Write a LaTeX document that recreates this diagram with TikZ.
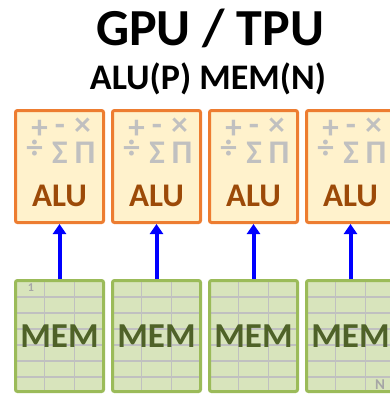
\documentclass[tikz,border=0pt]{standalone}
\usepackage{fontspec}
\setmainfont{Carlito}[BoldFont={Carlito Bold}]
\usetikzlibrary{arrows.meta}
\definecolor{AluFill}{HTML}{FFF2CC}
\definecolor{AluEdge}{HTML}{ED7D31}
\definecolor{AluInk}{HTML}{9C4A08}
\definecolor{MemFill}{HTML}{D8E4BC}
\definecolor{MemEdge}{HTML}{9BBB59}
\definecolor{MemInk}{HTML}{4F6228}
\definecolor{GridGray}{HTML}{C0C0C0}
\definecolor{TagGray}{HTML}{A6A6A6}
\begin{document}
\begin{tikzpicture}[x=1pt,y=-1pt]
				\tikzstyle{AluBox} = [rectangle, draw=AluEdge, fill=AluFill, line width=3pt, rounded corners=2pt, minimum width=88pt, minimum height=112pt, inner sep=0pt]
				\tikzstyle{MemBox} = [rectangle, draw=MemEdge, fill=MemFill, line width=3pt, rounded corners=2pt, minimum width=88pt, minimum height=111pt, inner sep=0pt, text=MemInk, font=\bfseries\fontsize{35}{35}\selectfont,
					path picture={
						\foreach \c in {-15,15} \draw[GridGray, line width=1.5pt] ([xshift=\c pt]path picture bounding box.north) -- ([xshift=\c pt]path picture bounding box.south);
						\foreach \r in {16.5,32.5,48.5,64.5,80.5,96.5} \draw[GridGray, line width=1.5pt] ([yshift=-\r pt]path picture bounding box.north west) -- ([yshift=-\r pt]path picture bounding box.north east);
					}]
				\tikzstyle{Op} = [text=GridGray, font=\bfseries\fontsize{33}{33}\selectfont, inner sep=0pt]
				\tikzstyle{AluText} = [text=AluInk, font=\bfseries\fontsize{33}{33}\selectfont, inner sep=0pt, anchor=base]
				\tikzstyle{Tag} = [text=TagGray, font=\bfseries, inner sep=0pt]
				\tikzstyle{Feed} = [draw=blue, line width=4pt, -{Triangle[width=13pt,length=10pt]}]
				\clip (0,0) rectangle (390,394);
				\node (title) at (210,45) [anchor=base, font=\bfseries\fontsize{52}{52}\selectfont] {GPU / TPU};
				\node (subtitle) at (208,89) [anchor=base, font=\bfseries\fontsize{36}{36}\selectfont] {ALU(P) MEM(N)};
				\foreach \i [evaluate=\i as \cx using 59.5+97*\i] in {0,...,3} {
					\node (alu\i) at (\cx,166.5) [AluBox] {};
					\node (plus\i) at (\cx-20,129.5) [Op] {+};
					\node (minus\i) at (\cx+0.5,130) [Op] {-};
					\node (times\i) at (\cx+23,126.5) [Op] {×};
					\node (div\i) at (\cx-25,149.5) [Op] {÷};
					\node (sum\i) at (\cx+0.5,152.5) [Op] {Σ};
					\node (prod\i) at (\cx+25.5,152.5) [Op] {Π};
					\node (alutext\i) at (\cx,206.5) [AluText] {ALU};
					\node (mem\i) at (\cx,336) [MemBox] {MEM};
					\draw [Feed] (mem\i.north) to (alu\i.south);
				}
				\node (first) at (31,288) [Tag, font=\bfseries\fontsize{12}{12}\selectfont] {1};
				\node (last) at (380,385) [Tag, font=\bfseries\fontsize{15}{15}\selectfont] {N};
			\end{tikzpicture}
\end{document}
